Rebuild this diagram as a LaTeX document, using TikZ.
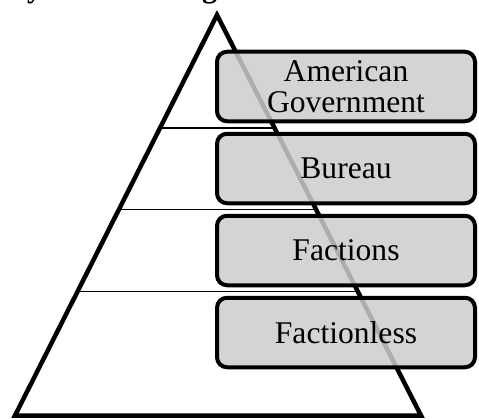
\documentclass[tikz,border=0pt]{standalone}
\usepackage{fontspec}
\setmainfont{Liberation Serif}
\usetikzlibrary{calc}

\begin{document}
\begin{tikzpicture}[x=1pt,y=-1pt,
    level/.style={draw,line width=4pt,rounded corners=10pt,fill=black!20,fill opacity=0.85,
      text opacity=1,minimum width=258pt,minimum height=69.5pt,inner sep=0pt,align=center,
      font=\fontsize{31.6}{31.5}\selectfont},
    cut/.style={line width=1.5pt}]
                    \useasboundingbox (0,0) rectangle (479,420);

                    % title, only its lower part is on the page
                    \node[anchor=base west,inner sep=0pt,font=\fontsize{30}{30}\selectfont\bfseries] at (27,-2) (t1) {y};
                    \node[anchor=base west,inner sep=0pt,font=\fontsize{30}{30}\selectfont\bfseries] at (202,-2) (t2) {g};

                    \coordinate (top) at (217,15);
                    \coordinate (bl) at (15,415.5);
                    \coordinate (br) at (421,415.5);

                    \draw[line width=4.5pt] (top) -- (bl) -- (br) -- cycle;
                    \draw[cut] ($(top)!0.282!(bl)$) -- ($(top)!0.282!(br)$);
                    \draw[cut] ($(top)!0.486!(bl)$) -- ($(top)!0.486!(br)$);
                    \draw[cut] ($(top)!0.690!(bl)$) -- ($(top)!0.690!(br)$);

                    \node[level] at (346,86.5) (1) {American\\Government};
                    \node[level] at (346,168.5) (2) {Bureau};
                    \node[level] at (346,250.5) (3) {Factions};
                    \node[level] at (346,332.5) (4) {Factionless};
                \end{tikzpicture}
\end{document}
